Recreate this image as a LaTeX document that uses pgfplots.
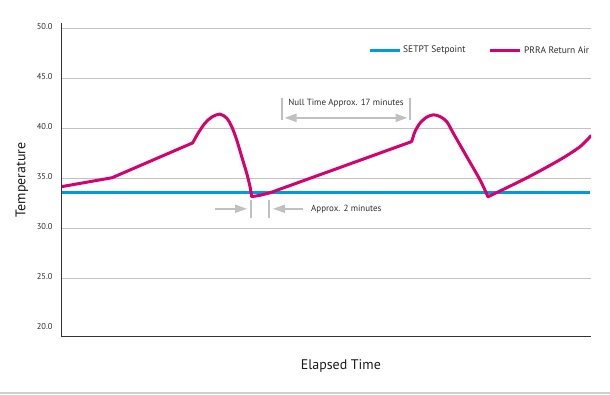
\documentclass[border=0pt]{standalone}
\usepackage{pgfplots}
\pgfplotsset{compat=1.18}
\usepackage{fontspec}
\setmainfont{PT Sans}
\usetikzlibrary{arrows.meta}
\definecolor{pinkc}{RGB}{214,0,110}
\definecolor{bluec}{RGB}{0,155,216}
\definecolor{gridc}{RGB}{195,195,195}
\definecolor{annc}{RGB}{192,192,192}
\definecolor{txtc}{RGB}{45,45,45}
\begin{document}
\begin{tikzpicture}
\useasboundingbox (0,0) rectangle (610bp,395bp);
\draw[gridc!80, line width=1.2bp] (0,2bp) -- (610bp,2bp);
\begin{scope}
\clip (0,0) rectangle (593bp,395bp);
\begin{axis}[
  at={(61bp,58bp)}, anchor=south west,
  scale only axis, width=530bp, height=314bp,
  xmin=0, xmax=530, ymin=19.2, ymax=50.55,
  axis line style={draw=none},
  xtick=\empty,
  ytick={25,30,...,50},
  extra y ticks={20},
  extra y tick style={grid=none},
  ymajorgrids,
  grid style={gridc, line width=1bp},
  major tick length=0pt,
  yticklabel style={font=\fontsize{8.5}{10}\selectfont, text=txtc, xshift=-5bp, yshift=2bp,
    /pgf/number format/.cd, fixed, fixed zerofill, precision=1, assume math mode=true},
  ylabel={Temperature},
  ylabel style={at={(axis description cs:-0.0736,0.5)}, anchor=center, font=\fontsize{14}{16}\selectfont, text=black!90},
  xlabel={Elapsed Time},
  xlabel style={at={(axis description cs:0.528,-0.0924)}, anchor=center, font=\fontsize{14}{16}\selectfont, text=black!90},
]
\addplot[bluec, line width=3bp] coordinates {(0,33.6) (529,33.6)};
\addplot[pinkc, line width=3bp, line join=round, line cap=round] coordinates {(0,34.2) (51,35.1) (131.7,38.58)};
\addplot[pinkc, line width=3bp, line join=round, line cap=round, smooth, tension=0.5] coordinates {(131.7,38.58) (137.3,39.58) (144,40.55) (150.7,41.15) (159,41.45) (165.7,41.05) (170.7,40.21) (175.7,38.88) (180.7,37.21) (185.7,35.55) (189,34.22) (190.7,33.22)};
\addplot[pinkc, line width=3bp, line join=round, line cap=round, smooth] coordinates {(190.7,33.22) (199,33.35) (209,33.6)};
\addplot[pinkc, line width=3bp, line join=round, line cap=round] coordinates {(209,33.6) (350.7,38.71)};
\addplot[pinkc, line width=3bp, line join=round, line cap=round, smooth, tension=0.5] coordinates {(350.7,38.71) (354,39.71) (359,40.55) (365.7,41.15) (372.3,41.38) (379,41.21) (385.7,40.71) (392.3,39.55) (405.7,37.21) (419,34.89) (427,33.2)};
\addplot[pinkc, line width=3bp, line join=round, line cap=round, smooth] coordinates {(427,33.2) (466,35.1) (499,36.9) (519,38.2) (530,39.3)};
\draw[black!80, line width=1.5bp] (rel axis cs:0,1) -- (rel axis cs:0,0) -- (rel axis cs:1,0);
% legend
\draw[bluec, line width=3bp] (axis description cs:0.583,0.914) -- (axis description cs:0.6396,0.914);
\node[anchor=west, inner sep=0pt, font=\fontsize{9.5}{11}\selectfont, text=txtc] at (axis description cs:0.6453,0.914) {SETPT Setpoint};
\draw[pinkc, line width=3bp] (axis description cs:0.8094,0.914) -- (axis description cs:0.866,0.914);
\node[anchor=west, inner sep=0pt, font=\fontsize{9.5}{11}\selectfont, text=txtc] at (axis description cs:0.8736,0.914) {PRRA Return Air};
% annotations
\draw[annc, line width=1.8bp] (axis cs:221,43.07) -- (axis cs:221,40.88);
\draw[annc, line width=1.8bp] (axis cs:349,43.07) -- (axis cs:349,40.88);
\draw[annc, line width=2bp, {Triangle[length=12bp,width=8bp]}-{Triangle[length=12bp,width=8bp]}] (axis cs:223.5,41.08) -- (axis cs:346.5,41.08);
\node[font=\fontsize{9}{11}\selectfont, text=txtc] at (axis cs:285,42.57) {Null Time Approx. 17 minutes};
\draw[annc, line width=1.8bp] (axis cs:190,32.9) -- (axis cs:190,31.1);
\draw[annc, line width=1.8bp] (axis cs:208,32.9) -- (axis cs:208,31.1);
\draw[annc, line width=2bp, -{Triangle[length=12bp,width=8bp]}] (axis cs:154,32.0) -- (axis cs:186,32.0);
\draw[annc, line width=2bp, -{Triangle[length=12bp,width=8bp]}] (axis cs:242,32.0) -- (axis cs:212,32.0);
\node[font=\fontsize{9}{11}\selectfont, text=txtc, anchor=west, inner sep=0pt] at (axis cs:250,32.0) {Approx. 2 minutes};
\end{axis}
\end{scope}
\end{tikzpicture}
\end{document}
